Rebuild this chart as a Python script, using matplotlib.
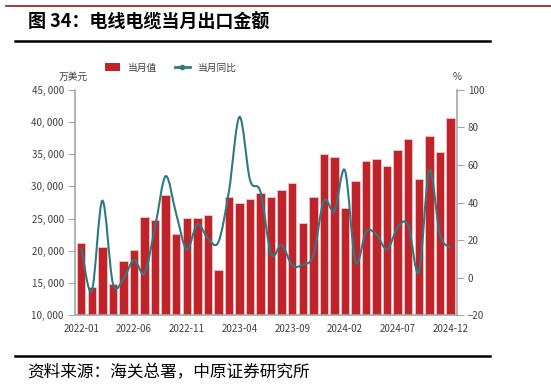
import numpy as np
import matplotlib.pyplot as plt
from matplotlib.path import Path
from matplotlib.patches import PathPatch
from matplotlib.lines import Line2D
from matplotlib.patches import Patch

plt.rcParams["font.family"] = ["Noto Sans CJK SC", "DejaVu Sans"]

months = [f"{y}-{m:02d}" for y in (2022, 2023, 2024) for m in range(1, 13)]

# 当月值, 万美元
export_value = [21200, 14400, 20600, 14800, 18500, 20200, 25300, 24800, 28700, 22700,
                25100, 25100, 25600, 17100, 28400, 27400, 28000, 29000, 28300, 29400,
                30500, 24300, 28400, 35100, 34500, 26700, 30800, 33900, 34200, 33200,
                35700, 37300, 31200, 37800, 35400, 40600]

# 当月同比, %
yoy = [16, -7, 41, -3, -0.5, 9.5, 2.5, 27, 54, 34,
       15, 28.5, 21, 19, 46, 85.5, 52, 45.5, 12.5, 17.5,
       6.5, 7, 12, 41, 35.5, 57, 8.5, 24.5, 23, 15,
       27, 28, 3, 57, 23, 16]

tick_idx = [0, 5, 10, 15, 20, 25, 30, 35]

bar_color = "#C1232B"
line_color = "#2E7A80"
axis_gray = "#A6A6A6"


# Catmull-Rom style smooth path through the points (like Excel smoothed line)
def smooth_path(x, y):
    pts = np.column_stack([x, y]).astype(float)
    n = len(pts)
    verts = [pts[0]]
    codes = [Path.MOVETO]
    for i in range(n - 1):
        p0 = pts[i - 1] if i > 0 else pts[i]
        p1 = pts[i]
        p2 = pts[i + 1]
        p3 = pts[i + 2] if i + 2 < n else pts[i + 1]
        c1 = p1 + (p2 - p0) / 6
        c2 = p2 - (p3 - p1) / 6
        verts += [c1, c2, p2]
        codes += [Path.CURVE4] * 3
    return Path(verts, codes)


fig = plt.figure(figsize=(5.51, 3.88), dpi=100)
ax = fig.add_axes([0.136, 0.187, 0.693, 0.582])
x = np.arange(len(months))

ax.bar(x, export_value, width=0.8, color=bar_color, edgecolor="#F2C4C6", linewidth=0.6, zorder=2)
ax.set_ylim(10000, 45000)
ax.set_xlim(-0.6, len(months) - 0.4)
ax.set_yticks(np.arange(10000, 45001, 5000))
ax.set_yticklabels([f"{v:,}".replace(",", ", ") for v in range(10000, 45001, 5000)])
ax.set_xticks(tick_idx)
ax.set_xticklabels([months[i] for i in tick_idx])
ax.tick_params(axis="x", length=0, labelsize=7, colors="#404040", pad=6)
ax.tick_params(axis="y", length=5, width=0.8, color=axis_gray, labelsize=7, labelcolor="#404040", pad=3)
for s in ["top", "right"]:
    ax.spines[s].set_visible(False)
for s in ["left", "bottom"]:
    ax.spines[s].set_color(axis_gray)
    ax.spines[s].set_linewidth(1.2)

ax2 = ax.twinx()
ax2.set_ylim(-20, 100)
ax2.set_yticks(np.arange(-20, 101, 20))
ax2.tick_params(axis="y", length=5, width=0.8, color=axis_gray, labelsize=7, labelcolor="#404040", pad=3)
for s in ["top", "left", "bottom"]:
    ax2.spines[s].set_visible(False)
ax2.spines["right"].set_color(axis_gray)
ax2.spines["right"].set_linewidth(1.2)
ax2.add_patch(PathPatch(smooth_path(x, yoy), facecolor="none", edgecolor=line_color, linewidth=1.5, zorder=3))

ax.text(-0.005, 1.035, "万美元", transform=ax.transAxes, fontsize=7, color="#404040", ha="center", va="bottom")
ax2.text(1.0, 1.035, "%", transform=ax2.transAxes, fontsize=7, color="#404040", ha="center", va="bottom")

handles = [Patch(facecolor=bar_color, edgecolor="none"),
           Line2D([0], [0], color=line_color, lw=2, marker="o", markersize=3)]
fig.legend(handles, ["当月值", "当月同比"], loc="center", bbox_to_anchor=(0.31, 0.826), ncol=2,
           frameon=False, fontsize=7, handlelength=1.6, handleheight=0.9, columnspacing=1.8,
           labelcolor="#404040")

# header / footer decorations
fig.add_artist(Line2D([0.01, 1.0], [0.985, 0.985], color="#8B1A1A", lw=1.2))
fig.add_artist(Line2D([0.027, 0.889], [0.895, 0.895], color="black", lw=1.8))
fig.add_artist(Line2D([0.027, 0.889], [0.083, 0.083], color="black", lw=1.8))
fig.text(0.05, 0.943, "图 34：电线电缆当月出口金额", fontsize=13, fontweight="bold", va="center", ha="left")
fig.text(0.05, 0.04, "资料来源：海关总署，中原证券研究所", fontsize=12, va="center", ha="left")

fig.savefig("out.png", dpi=100)
